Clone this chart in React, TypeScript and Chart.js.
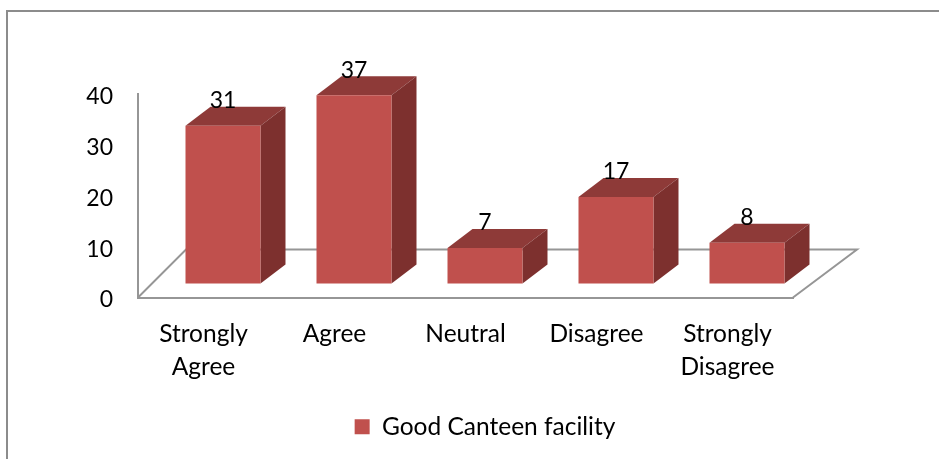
import React, { useEffect, useRef } from "react";
import { Chart, registerables } from "chart.js";

Chart.register(...registerables);

const categories = [["Strongly", "Agree"], "Agree", "Neutral", "Disagree", ["Strongly", "Disagree"]];
const seriesName = "Good Canteen facility";
const values = [31, 37, 7, 17, 8];
const yTicks = [0, 10, 20, 30, 40];

const FONT = "Lato, Carlito, 'Open Sans', sans-serif";
const FRONT = "#C0504D";
const TOP = "#8E3A38";
const SIDE = "#7D302E";
const LINE = "#969696";

// 3D projection of the plot box
const FLOOR_DX = 64;
const FLOOR_DY = 48;
const BAR_DX = 25;
const BAR_DY = 19;
const SHIFT_X = 19.5;
const SHIFT_Y = 14;

const poly = (ctx: CanvasRenderingContext2D, pts: number[][], fill: string) => {
  ctx.beginPath();
  pts.forEach(([x, y], i) => (i ? ctx.lineTo(x, y) : ctx.moveTo(x, y)));
  ctx.closePath();
  ctx.fillStyle = fill;
  ctx.fill();
};

const frame3d = {
  id: "frame3d",
  beforeDraw(chart: any) {
    const { ctx, width } = chart;
    ctx.save();
    ctx.strokeStyle = "#8C8C8C";
    ctx.lineWidth = 2;
    ctx.beginPath();
    ctx.moveTo(7, chart.height);
    ctx.lineTo(7, 11);
    ctx.lineTo(width, 11);
    ctx.stroke();
    ctx.restore();
  },
  afterLayout(chart: any) {
    // legend is centred under the plot's projected floor, not under the canvas
    const d = 88.5;
    chart.legend.left += d;
    chart.legend.right += d;
    chart.legend.top += 1;
    chart.legend.bottom += 1;
    // y tick labels sit slightly below their tick position
    const y = chart.scales.y;
    const drawLabels = y.constructor.prototype.drawLabels;
    y.drawLabels = function (area: any) {
      const c = this.ctx;
      c.save();
      c.translate(0, 2.5);
      drawLabels.call(this, area);
      c.restore();
    };
  },
  beforeDatasetsDraw(chart: any) {
    const { ctx, chartArea: a } = chart;
    ctx.save();
    ctx.strokeStyle = LINE;
    ctx.lineWidth = 2;
    ctx.beginPath();
    ctx.moveTo(a.left, a.bottom);
    ctx.lineTo(a.left + FLOOR_DX * 0.75, a.bottom - FLOOR_DY);
    ctx.lineTo(a.right + FLOOR_DX, a.bottom - FLOOR_DY);
    ctx.lineTo(a.right, a.bottom);
    ctx.stroke();
    ctx.restore();
  },
  beforeDatasetDraw(chart: any, args: any) {
    const { ctx } = chart;
    const bars = chart.getDatasetMeta(args.index).data;
    ctx.save();
    ctx.translate(SHIFT_X, -SHIFT_Y);
    bars.forEach((b: any) => {
      const l = b.x - b.width / 2;
      const r = b.x + b.width / 2;
      poly(ctx, [[l, b.y], [l + BAR_DX, b.y - BAR_DY], [r + BAR_DX, b.y - BAR_DY], [r, b.y]], TOP);
      poly(ctx, [[r, b.y], [r + BAR_DX, b.y - BAR_DY], [r + BAR_DX, b.base - BAR_DY], [r, b.base]], SIDE);
    });
  },
  afterDatasetDraw(chart: any) {
    chart.ctx.restore();
  },
  afterDatasetsDraw(chart: any) {
    const { ctx } = chart;
    const ds = chart.data.datasets[0];
    const bars = chart.getDatasetMeta(0).data;
    ctx.save();
    ctx.font = `23px ${FONT}`;
    ctx.fillStyle = "#000";
    ctx.textAlign = "center";
    ctx.textBaseline = "middle";
    bars.forEach((b: any, i: number) => {
      ctx.fillText(String(ds.data[i]), b.x + SHIFT_X, b.y - SHIFT_Y - 25);
    });
    ctx.restore();
  },
};

export default function App() {
  const ref = useRef<HTMLCanvasElement>(null);
  useEffect(() => {
    const chart = new Chart(ref.current!, {
      type: "bar",
      data: {
        labels: categories as any,
        datasets: [
          {
            label: seriesName,
            data: values,
            backgroundColor: FRONT,
            borderWidth: 0,
            barPercentage: 0.5725,
            categoryPercentage: 1,
            clip: false as any,
          },
        ],
      },
      options: {
        responsive: false,
        animation: false,
        layout: { padding: { left: 0, right: 146, top: 94, bottom: 11 } },
        plugins: {
          tooltip: { enabled: false },
          legend: {
            position: "bottom",
            labels: {
              boxWidth: 15,
              boxHeight: 15,
              padding: 32,
              color: "#000",
              font: { family: FONT, size: 24.5 },
            },
          },
        },
        scales: {
          x: {
            grid: { display: false },
            border: { display: true, color: LINE, width: 2 },
            ticks: {
              color: "#000",
              font: { family: FONT, size: 24.5, lineHeight: 1.347 },
              maxRotation: 0,
              autoSkip: false,
              padding: 12,
            },
            afterFit(s: any) {
              s.height = 84;
            },
          },
          y: {
            min: yTicks[0],
            max: yTicks[yTicks.length - 1],
            grid: { display: false },
            border: { display: true, color: LINE, width: 2 },
            ticks: {
              color: "#000",
              font: { family: FONT, size: 23 },
              stepSize: 10,
              padding: 17,
            },
            afterFit(s: any) {
              s.width = 138;
            },
          },
        },
      },
      plugins: [frame3d],
    } as any);
    return () => chart.destroy();
  }, []);
  return (
    <div style={{ position: "fixed", left: 0, top: 0, width: 939, height: 459, background: "#fff" }}>
      <canvas ref={ref} width={939} height={459} style={{ display: "block" }} />
    </div>
  );
}
